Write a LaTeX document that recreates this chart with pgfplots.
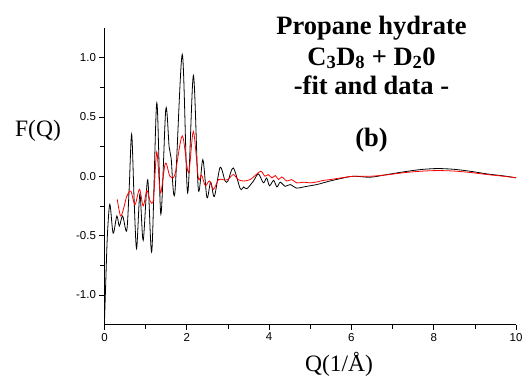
\documentclass[border=0pt]{standalone}
\usepackage{fontspec}
\setmainfont{Liberation Serif}
\newfontfamily\sansf{Liberation Sans}
\usepackage{pgfplots}
\pgfplotsset{compat=1.18}
\begin{document}
\begin{tikzpicture}
\useasboundingbox (-104.5pt,-51.5pt) rectangle (421.5pt,324.5pt);
\begin{axis}[
  at={(0,0)}, anchor=south west,
  scale only axis, width=411.5pt, height=296.5pt,
  xmin=0, xmax=10, ymin=-1.25, ymax=1.25,
  axis x line*=bottom, axis y line*=left,
  axis line style={black, line width=0.8pt},
  xtick={0,2,4,6,8,10}, ytick={-1,-0.5,0,0.5,1},
  minor x tick num=1, minor y tick num=1,
  tick align=outside, major tick length=5pt, minor tick length=4pt,
  tick style={black, line width=0.7pt},
  /pgf/number format/assume math mode=true,
  tick label style={font=\sansf\fontsize{11.5}{13}\selectfont},
  yticklabel style={/pgf/number format/fixed, /pgf/number format/precision=1, /pgf/number format/fixed zerofill},
  xticklabel style={/pgf/number format/fixed},
  xlabel={Q(1/Å)}, ylabel={F(Q)},
  label style={font=\fontsize{23.5}{28}\selectfont},
  xlabel style={at={(axis description cs:0.57,-0.1592)}, anchor=base},
  ylabel style={rotate=-90, at={(axis description cs:-0.1616,0.6357)}, anchor=base},
  clip=false,
]
\addplot[black, line width=0.8pt, smooth, tension=0.5] coordinates {
(0.00,-1.22) (0.03,-0.9) (0.07,-0.5) (0.13,-0.237) (0.21,-0.48) (0.30,-0.335) (0.36,-0.42) (0.44,-0.335) (0.54,-0.46) (0.60,-0.1) (0.66,0.355) (0.72,-0.2) (0.78,-0.61) (0.86,-0.15) (0.94,-0.54) (1.05,-0.03) (1.15,-0.63) (1.27,0.62) (1.37,-0.32) (1.49,0.567) (1.57,0.25) (1.62,0.15) (1.71,-0.14) (1.89,1.027) (2.02,-0.14) (2.16,0.85) (2.28,-0.11) (2.39,0.14) (2.49,-0.18) (2.58,-0.05) (2.67,-0.17) (2.81,0.075) (2.93,-0.04) (3.0,-0.04) (3.13,0.07) (3.3,-0.105) (3.38,-0.09) (3.46,-0.105) (3.62,-0.04) (3.74,0.02) (3.86,-0.055) (3.94,-0.015) (4.01,-0.08) (4.11,-0.035) (4.19,-0.09) (4.27,-0.05) (4.39,-0.085) (4.51,-0.07) (4.67,-0.1) (4.84,-0.09) (5.0,-0.08) (5.16,-0.07) (5.32,-0.055) (5.48,-0.04) (5.73,-0.02) (6.05,0.0) (6.46,-0.008) (6.86,0.014) (7.27,0.037) (7.67,0.056) (8.08,0.065) (8.48,0.059) (8.89,0.042) (9.29,0.02) (9.7,0.003) (10.0,-0.013)
};
\addplot[red, line width=0.8pt, smooth, tension=0.5] coordinates {
(0.31,-0.195) (0.39,-0.335) (0.47,-0.265) (0.54,-0.17) (0.64,-0.125) (0.74,-0.24) (0.85,-0.11) (0.94,-0.25) (1.03,-0.12) (1.11,-0.21) (1.19,-0.195) (1.27,0.205) (1.36,-0.14) (1.48,0.11) (1.59,0.0) (1.71,0.014) (1.89,0.34) (2.04,0.03) (2.16,0.377) (2.28,-0.014) (2.36,0.01) (2.45,-0.08) (2.55,-0.04) (2.65,-0.11) (2.77,-0.028) (2.89,-0.03) (3.0,-0.028) (3.13,0.014) (3.25,-0.028) (3.38,-0.04) (3.54,-0.028) (3.66,0.006) (3.8,0.042) (3.9,0.0) (3.98,0.014) (4.07,-0.014) (4.15,0.006) (4.23,-0.028) (4.31,-0.006) (4.43,-0.04) (4.55,-0.028) (4.67,-0.056) (4.84,-0.05) (5.0,-0.056) (5.16,-0.048) (5.32,-0.035) (5.48,-0.028) (5.73,-0.015) (6.05,0.0) (6.46,0.0) (6.86,0.012) (7.27,0.03) (7.67,0.042) (8.08,0.048) (8.48,0.044) (8.89,0.032) (9.29,0.015) (9.7,0.0) (10.0,-0.013)
};
\node[anchor=base, font=\bfseries\fontsize{26.5}{30}\selectfont] at (axis cs:6.49,1.197) {Propane hydrate};
\node[anchor=base, font=\bfseries\fontsize{26.5}{30}\selectfont] at (axis cs:6.49,0.938) {C\textsubscript{3}D\textsubscript{8} + D\textsubscript{2}0};
\node[anchor=base, font=\bfseries\fontsize{26.5}{30}\selectfont] at (axis cs:6.49,0.691) {-fit and data -};
\node[anchor=base, font=\bfseries\fontsize{26.5}{30}\selectfont] at (axis cs:6.49,0.249) {(b)};
\end{axis}
\end{tikzpicture}
\end{document}
